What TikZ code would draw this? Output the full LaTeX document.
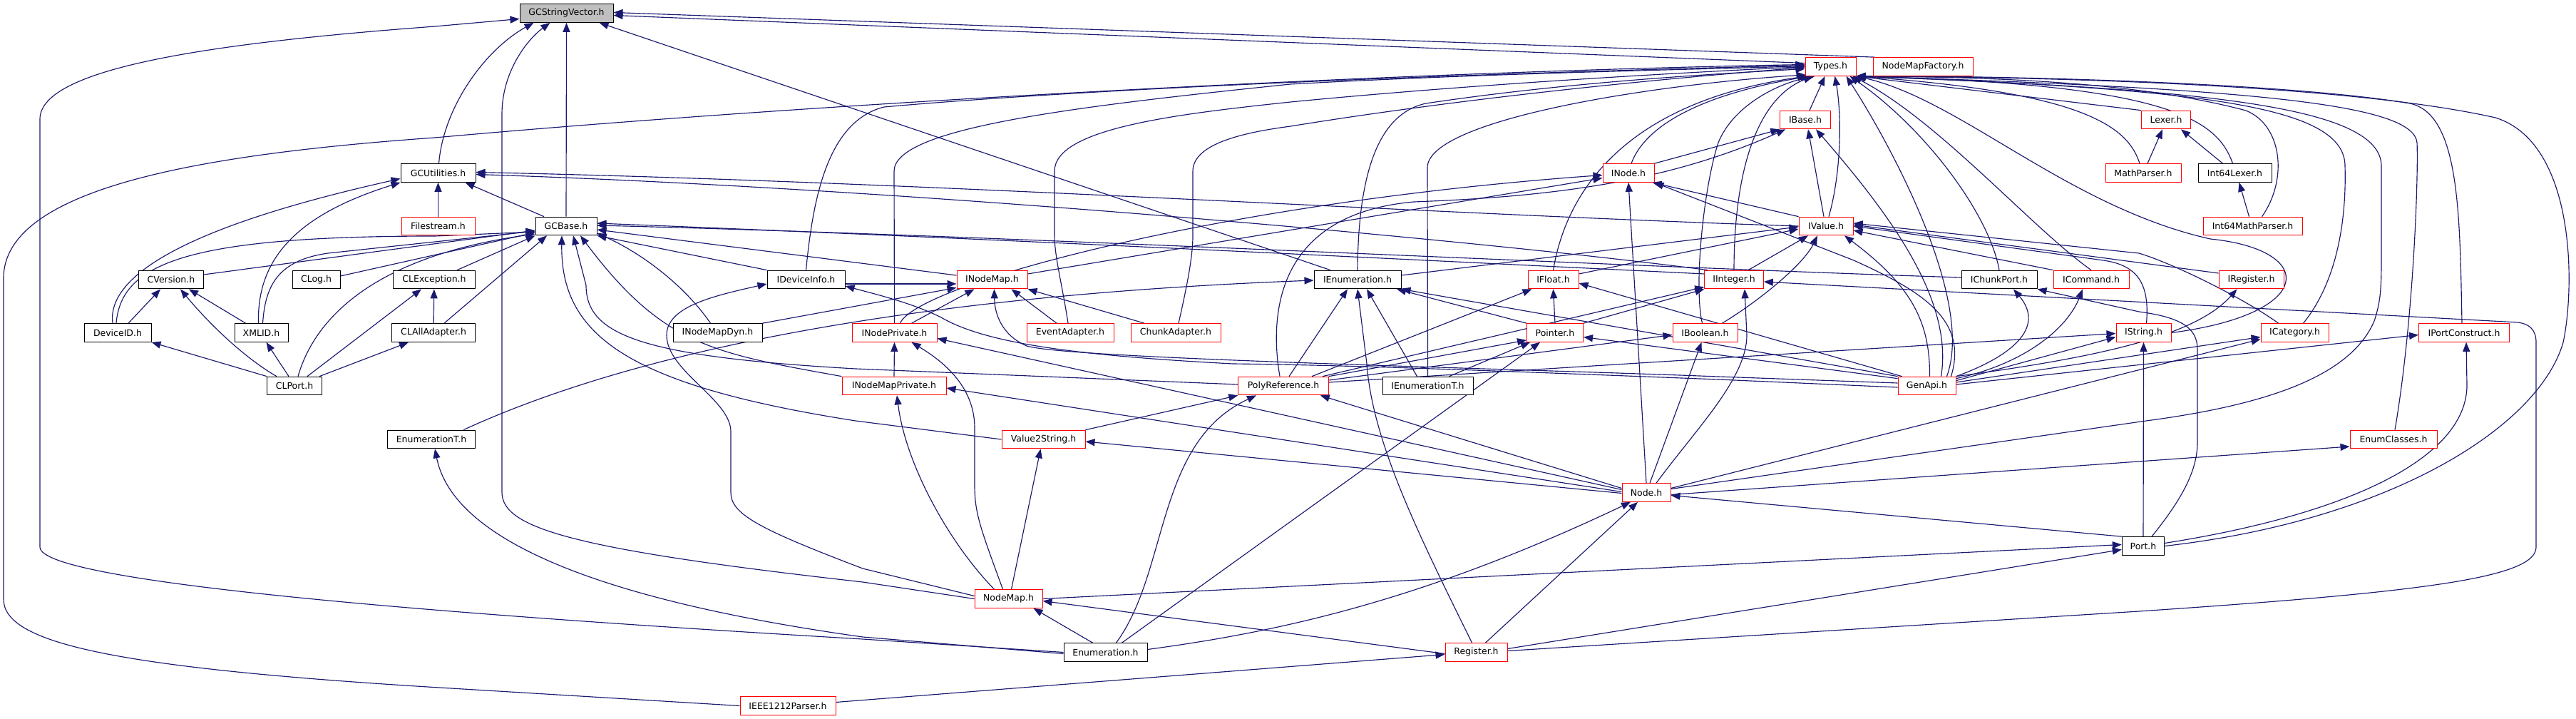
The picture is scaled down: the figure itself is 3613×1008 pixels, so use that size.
\documentclass[tikz,border=0pt]{standalone}
\usepackage{fontspec}
\setmainfont{DejaVu Sans}
\usetikzlibrary{arrows.meta,backgrounds}
\definecolor{mb}{RGB}{25,25,112}
\definecolor{rd}{RGB}{255,0,0}
\definecolor{gf}{RGB}{191,191,191}
\begin{document}
\begin{tikzpicture}[x=1pt,y=-1pt,
  nb/.style={draw=black,fill=white,line width=1pt,minimum height=25.7pt,inner sep=0pt,font=\fontsize{12.5}{14}\selectfont},
  nr/.style={nb,draw=rd},
  e/.style={draw=mb,line width=1.15pt,-{Triangle[length=13pt,width=10pt]}}]
\useasboundingbox (0,0) rectangle (3613,1008);
% nodes
\node[nb,fill=gf,minimum width=131pt] (gcsv) at (794.5,18.5) {GCStringVector.h};
\node[nr,minimum width=71pt] (types) at (2567.5,93.5) {Types.h};
\node[nr,minimum width=140pt] (nmf) at (2697,93.5) {NodeMapFactory.h};
\node[nr,minimum width=70.5pt] (ibase) at (2532,168) {IBase.h};
\node[nr,minimum width=69.5pt] (lexer) at (3038,168) {Lexer.h};
\node[nb,minimum width=105pt] (gcu) at (614.5,242.5) {GCUtilities.h};
\node[nr,minimum width=72pt] (inode) at (2284,242.5) {INode.h};
\node[nr,minimum width=106pt] (mathp) at (3006,242.5) {MathParser.h};
\node[nb,minimum width=103pt] (i64lex) at (3134.5,242.5) {Int64Lexer.h};
\node[nr,minimum width=103pt] (files) at (614.5,317) {Filestream.h};
\node[nb,minimum width=86pt] (gcbase) at (794,317) {GCBase.h};
\node[nr,minimum width=76pt] (ivalue) at (2561,317) {IValue.h};
\node[nr,minimum width=139pt] (i64mp) at (3159.5,317) {Int64MathParser.h};
\node[nb,minimum width=90.5pt] (cver) at (240,392) {CVersion.h};
\node[nb,minimum width=67pt] (clog) at (443.5,392) {CLog.h};
\node[nb,minimum width=115pt] (clexc) at (609,392) {CLException.h};
\node[nb,minimum width=109pt] (idev) at (1130.5,392) {IDeviceInfo.h};
\node[nr,minimum width=99pt] (inmap) at (1391.5,392) {INodeMap.h};
\node[nb,minimum width=122pt] (ienum) at (1904,392) {IEnumeration.h};
\node[nr,minimum width=71pt] (ifloat) at (2178.5,392) {IFloat.h};
\node[nr,minimum width=82.5pt] (iint) at (2432,392) {IInteger.h};
\node[nb,minimum width=106pt] (ichunk) at (2804,392) {IChunkPort.h};
\node[nr,minimum width=106pt] (icmd) at (2933,392) {ICommand.h};
\node[nr,minimum width=91pt] (ireg) at (3157.5,392) {IRegister.h};
\node[nb,minimum width=94pt] (devid) at (165,466.5) {DeviceID.h};
\node[nb,minimum width=75pt] (xmlid) at (366.5,466.5) {XMLID.h};
\node[nb,minimum width=117.5pt] (clall) at (608,466.5) {CLAllAdapter.h};
\node[nb,minimum width=125pt] (inmdyn) at (1006.5,466.5) {INodeMapDyn.h};
\node[nr,minimum width=119pt] (inpriv) at (1254.5,466.5) {INodePrivate.h};
\node[nr,minimum width=122pt] (evad) at (1501,466.5) {EventAdapter.h};
\node[nr,minimum width=126pt] (chad) at (1649,466.5) {ChunkAdapter.h};
\node[nr,minimum width=79pt] (pointer) at (2181,466.5) {Pointer.h};
\node[nr,minimum width=91pt] (ibool) at (2391.5,466.5) {IBoolean.h};
\node[nr,minimum width=77pt] (istr) at (3006.5,466.5) {IString.h};
\node[nr,minimum width=95pt] (icat) at (3218.5,466.5) {ICategory.h};
\node[nr,minimum width=127pt] (iportc) at (3456,466.5) {IPortConstruct.h};
\node[nb,minimum width=76.5pt] (clport) at (413,541) {CLPort.h};
\node[nr,minimum width=146pt] (inmpriv) at (1254,541) {INodeMapPrivate.h};
\node[nr,minimum width=126.5pt] (polyref) at (1800,541) {PolyReference.h};
\node[nb,minimum width=127pt] (ienumt) at (2002.5,541) {IEnumerationT.h};
\node[nr,minimum width=81pt] (genapi) at (2702.5,541) {GenApi.h};
\node[nb,minimum width=123pt] (enumt) at (605,616) {EnumerationT.h};
\node[nr,minimum width=117pt] (v2s) at (1463.5,616) {Value2String.h};
\node[nr,minimum width=122pt] (enumcl) at (3357,616) {EnumClasses.h};
\node[nr,minimum width=68pt] (node) at (2309,690.5) {Node.h};
\node[nb,minimum width=59.5pt] (port) at (3006,765.5) {Port.h};
\node[nr,minimum width=95pt] (nodemap) at (1414.5,839.5) {NodeMap.h};
\node[nb,minimum width=117pt] (enumh) at (1550.5,914.5) {Enumeration.h};
\node[nr,minimum width=87pt] (reg) at (2070.5,914.5) {Register.h};
\node[nr,minimum width=134pt] (ieee) at (1105,989.5) {IEEE1212Parser.h};
\begin{scope}[on background layer]
\fill[white] (0,0) rectangle (3613,1008);
% to GCStringVector
\draw[e] ([yshift=5pt]types.west) -- ([yshift=-3pt]gcsv.east);
\draw[e] ([xshift=3pt]nmf.north west) -- ([yshift=1pt]gcsv.east);
\draw[e] ([xshift=1pt]gcu.north) .. controls (622,150) and (680,70) .. ([xshift=-46pt]gcsv.south);
\draw[e] (gcbase.north) -- (gcsv.south);
\draw[e] (nodemap.west) -- (1210,816) .. controls (800,770) and (704,740) .. (704,690) -- (704,160) .. controls (704,100) and (740,55) .. ([xshift=-23pt]gcsv.south);
\draw[e] ([xshift=-38pt]ienum.north) -- ([xshift=46pt]gcsv.south);
\draw[e] (enumh.west) -- (1210,896) .. controls (700,866) and (56,820) .. (56,767) -- (56,167) .. controls (56,95) and (300,60) .. (610,37) -- ([yshift=-8pt]gcsv.west);
% to Types (left)
\draw[e] (ieee.west) -- (600,963) .. controls (150,935) and (5,900) .. (5,840) -- (5,390) .. controls (5,260) and (300,215) .. (610,193) .. controls (1200,140) and (2000,100) .. ([yshift=3pt]types.west);
\draw[e] (idev.north) .. controls (1140,280) and (1160,170) .. (1240,150) .. controls (1600,118) and (2200,100) .. ([yshift=2pt]types.west);
\draw[e] (inpriv.north) -- (1254,240) .. controls (1254,180) and (1500,150) .. (1810,118) .. controls (2100,102) and (2400,97) .. ([yshift=1pt]types.west);
\draw[e] ([xshift=-3pt]evad.north) .. controls (1490,400) and (1479,360) .. (1479,330) -- (1479,240) .. controls (1479,180) and (1650,160) .. (1810,143) .. controls (2100,115) and (2400,100) .. (types.west);
\draw[e] ([xshift=4pt]chad.north) .. controls (1665,400) and (1673,360) .. (1673,330) -- (1673,240) .. controls (1673,200) and (1750,185) .. (1810,177) .. controls (2100,130) and (2400,105) .. ([yshift=-1pt]types.west);
\draw[e] (ienum.north) .. controls (1905,250) and (1930,160) .. (2000,145) .. controls (2200,115) and (2400,104) .. ([yshift=-3pt]types.west);
\draw[e] (ienumt.north) -- (2002,235) .. controls (2002,170) and (2300,120) .. ([xshift=1pt,yshift=2pt]types.south west);
\draw[e] (ifloat.north) .. controls (2200,250) and (2300,140) .. ([xshift=3pt]types.south west);
\draw[e] ([xshift=4pt]inode.north) .. controls (2310,170) and (2400,130) .. ([xshift=7pt]types.south west);
\draw[e] (iint.north) .. controls (2432,250) and (2460,140) .. ([xshift=11pt]types.south west);
\draw[e] ([xshift=-4pt]ibool.north) .. controls (2375,400) and (2390,260) .. (2410,200) .. controls (2430,150) and (2490,118) .. ([xshift=14pt]types.south west);
\draw[e] ([xshift=6pt]ibase.north) -- ([xshift=-8pt]types.south);
\draw[e] ([xshift=4pt]ivalue.north) .. controls (2583,240) and (2583,160) .. ([xshift=6pt]types.south);
% to Types (right)
\draw[e] (ichunk.north) .. controls (2790,300) and (2700,180) .. ([xshift=-9pt]types.south east);
\draw[e] (icmd.north) .. controls (2850,320) and (2720,170) .. ([xshift=-5pt]types.south east);
\draw[e] ([xshift=28pt]genapi.north) .. controls (2770,420) and (2650,200) .. ([xshift=-14pt]types.south east);
\draw[e] (lexer.north west) -- (types.south east);
\draw[e] ([xshift=-5pt]mathp.north) .. controls (2985,180) and (2930,130) .. (types.south east);
\draw[e] ([xshift=-3pt]i64lex.north) .. controls (3110,170) and (3050,118) .. (types.south east);
\draw[e] ([xshift=13pt]i64mp.north) .. controls (3210,250) and (3200,175) .. (3150,155) .. controls (3000,115) and (2800,108) .. (types.south east);
\draw[e] ([xshift=12pt]icat.north) .. controls (3290,380) and (3290,270) .. (3289,233) .. controls (3289,150) and (3100,125) .. (types.south east);
\draw[e] ([xshift=-3pt]iportc.north) .. controls (3450,300) and (3450,160) .. (3380,145) .. controls (3200,115) and (2800,106) .. (types.south east);
\draw[e] (port.east) .. controls (3350,730) and (3560,600) .. (3595,480) .. controls (3612,400) and (3612,200) .. (3500,165) .. controls (3300,120) and (2900,108) .. (types.south east);
\draw[e] ([xshift=2pt]enumcl.north) .. controls (3385,450) and (3392,250) .. (3390,200) .. controls (3385,150) and (3200,125) .. (types.south east);
\draw[e] ([yshift=5pt]node.east) -- (3010,590) .. controls (3200,565) and (3300,520) .. (3330,450) .. controls (3340,420) and (3340,400) .. (3340,350) -- (3340,233) .. controls (3340,150) and (3100,125) .. (types.south east);
\draw[e] (istr.east) .. controls (3250,440) and (3250,350) .. (3100,335) .. controls (2900,290) and (2750,140) .. (types.south east);
% lexers
\draw[e] ([xshift=-5pt]i64mp.north) -- ([xshift=6pt]i64lex.south);
\draw[e] ([xshift=-17pt]i64lex.north) -- ([xshift=21pt]lexer.south);
\draw[e] ([xshift=6pt]mathp.north) -- ([xshift=-5pt]lexer.south);
% GCUtilities
\draw[e] ([xshift=-7pt]devid.north) .. controls (150,390) and (250,320) .. ([yshift=-8pt]gcu.west);
\draw[e] ([xshift=-4pt]xmlid.north) .. controls (360,360) and (420,300) .. (gcu.south west);
\draw[e] (files) -- (gcu);
\draw[e] ([xshift=-31pt]gcbase.north) -- ([xshift=38pt]gcu.south);
\draw[e] (ivalue.west) .. controls (2000,300) and (1300,255) .. ([yshift=1pt]gcu.east);
\draw[e] ([xshift=5pt]iint.north west) .. controls (2100,340) and (1300,265) .. ([yshift=-2pt]gcu.east);
% GCBase
\draw[e] ([xshift=-2pt]devid.north) .. controls (170,370) and (260,331) .. (610,331) -- ([yshift=-8pt]gcbase.west);
\draw[e] ([yshift=7pt]cver.east) -- ([yshift=-6pt]gcbase.west);
\draw[e] ([xshift=2pt]xmlid.north) .. controls (372,400) and (390,365) .. (460,355) -- ([yshift=-7pt]gcbase.west);
\draw[e] ([yshift=5pt]clog.east) -- ([yshift=-9pt]gcbase.west);
\draw[e] ([xshift=5pt]clport.north) .. controls (440,450) and (520,360) .. ([yshift=-11pt]gcbase.west);
\draw[e] ([xshift=32pt]clexc.north) -- (gcbase.south west);
\draw[e] ([xshift=15pt]clall.north) -- ([xshift=-27pt]gcbase.south);
\draw[e] (v2s.west) -- (1200,590) .. controls (880,540) and (786,470) .. ([xshift=-6pt]gcbase.south);
\draw[e] ([yshift=2pt]polyref.west) -- (1200,517) .. controls (900,500) and (822,470) .. (822,400) -- ([xshift=10pt]gcbase.south);
\draw[e] (inmpriv.north west) .. controls (1000,495) and (930,485) .. ([xshift=20pt]gcbase.south);
\draw[e] (idev.north west) -- (gcbase.south east);
\draw[e] ([xshift=-10pt]inmdyn.north) .. controls (960,400) and (900,355) .. ([yshift=-10pt]gcbase.east);
\draw[e] ([yshift=6pt]inmap.west) -- ([yshift=-5pt]gcbase.east);
\draw[e] ([yshift=3pt]ichunk.west) .. controls (2300,375) and (1400,330) .. ([yshift=1pt]gcbase.east);
\draw[e] ([yshift=8pt]iint.west) .. controls (2000,365) and (1400,335) .. ([yshift=4pt]gcbase.east);
% CL group
\draw[e] ([xshift=15pt]devid.north) -- ([xshift=-15pt]cver.south);
\draw[e] ([xshift=-22pt]xmlid.north) -- ([xshift=25pt]cver.south);
\draw[e] ([xshift=-25pt]clport.north) .. controls (340,500) and (290,450) .. ([xshift=13pt]cver.south);
\draw[e] ([xshift=18pt]clport.north) -- ([xshift=-18pt]clexc.south);
\draw[e] (clall) -- (clexc);
\draw[e] (clport.north west) -- (devid.south east);
\draw[e] ([xshift=-8pt]clport.north) -- ([xshift=7pt]xmlid.south);
\draw[e] ([xshift=35pt]clport.north) -- ([xshift=-35pt]clall.south);
% IDeviceInfo / INodeMap
\draw[e] ([yshift=4pt]nodemap.west) -- (1210,797) .. controls (1060,740) and (1025,720) .. (1025,690) -- (1025,605) .. controls (1025,560) and (935,520) .. (935,470) .. controls (935,430) and (1000,415) .. ([yshift=-6pt]idev.west);
\draw[e] ([yshift=-6pt]idev.east) -- ([yshift=-6pt]inmap.west);
\draw[e] ([yshift=-2pt]genapi.west) -- (2410,532) .. controls (2100,520) and (1900,512) .. (1729,510) .. controls (1500,498) and (1380,480) .. (1320,445) .. controls (1280,425) and (1230,413) .. ([yshift=-9pt]idev.east);
\draw[e] (inmdyn.north east) -- ([yshift=2pt]inmap.south west);
\draw[e] ([xshift=24pt]inpriv.north) -- ([xshift=-25pt]inmap.south);
\draw[e] ([xshift=-19pt]evad.north) -- ([xshift=27pt]inmap.south);
\draw[e] ([xshift=-44pt]chad.north) -- (inmap.south east);
\draw[e] ([yshift=4pt]genapi.west) -- (2410,528) .. controls (2100,516) and (1500,503) .. (1440,485) .. controls (1405,470) and (1395,440) .. ([xshift=3pt]inmap.south);
% INode
\draw[e] (node.north) -- (inode.south);
\draw[e] (ivalue.north west) -- ([xshift=-3pt]inode.south east);
\draw[e] ([yshift=8pt]inmap.east) -- ([yshift=-7pt]inode.west);
\draw[e] ([xshift=8pt]inpriv.north) .. controls (1285,400) and (1700,285) .. ([yshift=-3pt]inode.west);
\draw[e] ([xshift=34pt]genapi.north) .. controls (2760,450) and (2700,410) .. (2600,365) -- (inode.south east);
% IBase
\draw[e] (inode.north east) -- (ibase.south west);
\draw[e] ([xshift=-5pt]polyref.north) .. controls (1780,440) and (1790,300) .. (1983,283) .. controls (2200,275) and (2350,250) .. ([xshift=8pt]ibase.south west);
\draw[e] ([xshift=-3pt]ivalue.north) -- ([xshift=4pt]ibase.south);
\draw[e] ([xshift=20pt]genapi.north) .. controls (2740,420) and (2650,300) .. ([xshift=15pt]ibase.south);
% IValue
\draw[e] ([xshift=20pt]iint.north) -- ([xshift=-25pt]ivalue.south);
\draw[e] ([xshift=24pt]ibool.north) .. controls (2470,420) and (2530,370) .. ([xshift=-12pt]ivalue.south);
\draw[e] ([xshift=4pt]genapi.north) .. controls (2707,450) and (2680,400) .. ([xshift=26pt]ivalue.south);
\draw[e] ([yshift=8pt]ifloat.east) -- ([yshift=-4pt]ivalue.west);
\draw[e] ([yshift=6pt]ienum.east) -- ([yshift=-1pt]ivalue.west);
\draw[e] ([yshift=9pt]ireg.west) -- ([yshift=2pt]ivalue.east);
\draw[e] (icmd.north west) -- ([yshift=-6pt]ivalue.east);
\draw[e] ([xshift=4pt]istr.north) .. controls (3015,400) and (3000,372) .. (2950,365) -- (ivalue.east);
\draw[e] ([xshift=-23pt]icat.north) .. controls (3150,420) and (3050,370) .. (3000,355) -- ([yshift=4pt]ivalue.east);
% IEnumeration
\draw[e] ([xshift=45pt]enumt.north) .. controls (950,465) and (1400,410) .. ([yshift=-1pt]ienum.west);
\draw[e] ([xshift=-15pt]ienumt.north) -- ([xshift=13pt]ienum.south);
\draw[e] ([xshift=-6pt]reg.north) .. controls (1990,750) and (1925,620) .. (1917,510) -- (ienum.south);
\draw[e] ([xshift=8pt]polyref.north) -- ([xshift=-14pt]ienum.south);
\draw[e] ([xshift=-40pt]pointer.north) -- ([xshift=55pt]ienum.south);
\draw[e] (genapi.north west) -- (ienum.south east);
% IFloat / IInteger / Pointer / IBoolean
\draw[e] (pointer.north) -- (ifloat.south);
\draw[e] ([xshift=40pt]polyref.north) -- ([xshift=-30pt]ifloat.south);
\draw[e] ([xshift=6pt]genapi.north west) -- ([yshift=-5pt]ifloat.east);
\draw[e] (pointer.north east) -- (iint.south west);
\draw[e] ([xshift=55pt]polyref.north) -- ([yshift=3pt]iint.south west);
\draw[e] ([xshift=14pt]node.north) .. controls (2380,600) and (2450,530) .. (2450,470) -- ([xshift=15pt]iint.south);
\draw[e] ([yshift=2pt]reg.east) -- (3000,857) .. controls (3400,830) and (3557,810) .. (3557,767) -- (3557,480) .. controls (3557,460) and (3545,454) .. (3532,452) -- ([yshift=-3pt]iint.east);
\draw[e] (polyref.north east) -- ([yshift=3pt]pointer.south west);
\draw[e] ([xshift=30pt]ienumt.north) -- ([xshift=-35pt]pointer.south);
\draw[e] ([xshift=23pt]enumh.north) -- ([xshift=-21pt]pointer.south);
\draw[e] ([yshift=-3pt]genapi.north west) -- ([yshift=-6pt]pointer.east);
\draw[e] ([yshift=8pt]polyref.east) -- ([yshift=-3pt]ibool.west);
\draw[e] ([xshift=5pt]node.north) -- ([xshift=-5pt]ibool.south);
% right-hand interfaces
\draw[e] ([xshift=12pt]port.north) .. controls (3060,700) and (3082,660) .. (3082,620) -- (3082,490) .. controls (3082,460) and (3060,445) .. (3000,437) -- (ichunk.south east);
\draw[e] (genapi.north east) .. controls (2820,500) and (2870,460) .. ([xshift=20pt]ichunk.south);
\draw[e] ([yshift=-3pt]genapi.north east) .. controls (2840,510) and (2900,460) .. ([xshift=-12pt]icmd.south);
\draw[e] ([yshift=-6pt]genapi.north east) -- ([yshift=-6pt]istr.west);
\draw[e] ([yshift=5pt]polyref.east) -- ([yshift=-1pt]istr.west);
\draw[e] (port.north) -- (istr.south);
\draw[e] ([yshift=5pt]genapi.east) -- ([yshift=-6pt]icat.west);
\draw[e] ([yshift=6pt]node.east) -- ([yshift=-9pt]icat.west);
\draw[e] (genapi.north east) .. controls (2950,500) and (3080,470) .. ([xshift=-20pt]ireg.south);
\draw[e] ([yshift=2pt]genapi.east) -- ([yshift=-3pt]iportc.west);
\draw[e] ([yshift=4pt]port.east) .. controls (3300,720) and (3460,640) .. (3460,540) -- ([xshift=3pt]iportc.south);
\draw[e] ([yshift=-3pt]node.east) -- ([yshift=-10pt]enumcl.west);
% Node
\draw[e] ([yshift=4pt]node.west) -- ([yshift=-8pt]inpriv.east);
\draw[e] ([yshift=1pt]node.west) -- ([yshift=-3pt]inmpriv.east);
\draw[e] ([yshift=-1pt]node.west) -- ([yshift=-3pt]v2s.east);
\draw[e] ([yshift=6pt]node.west) -- ([xshift=-12pt]polyref.south east);
\draw[e] ([yshift=4pt]enumh.east) .. controls (1800,885) and (2000,840) .. ([xshift=-22pt]node.south);
\draw[e] ([xshift=13pt]reg.north) -- ([xshift=-12pt]node.south);
\draw[e] (port.north west) -- ([yshift=-4pt]node.east);
% NodeMap and bottom
\draw[e] ([xshift=-18pt]enumh.north) -- ([xshift=35pt]nodemap.south);
\draw[e] ([yshift=-2pt]reg.west) -- ([yshift=-3pt]nodemap.east);
\draw[e] ([xshift=4pt]nodemap.north) -- ([xshift=-4pt]v2s.south);
\draw[e] ([xshift=-20pt]nodemap.north) .. controls (1330,760) and (1270,650) .. ([xshift=4pt]inmpriv.south);
\draw[e] ([xshift=-8pt]nodemap.north) .. controls (1375,740) and (1367,720) .. (1367,680) -- (1367,600) .. controls (1367,540) and (1320,505) .. ([xshift=24pt]inpriv.south);
\draw[e] (nodemap.east) -- ([yshift=2pt]port.west);
\draw[e] ([yshift=5pt]reg.east) -- ([yshift=-5pt]port.west);
\draw[e] ([yshift=5pt]ieee.east) -- ([yshift=-3pt]reg.west);
\draw[e] ([yshift=-2pt]enumh.west) -- (1210,893) .. controls (760,830) and (630,730) .. ([xshift=5pt]enumt.south);
\draw[e] ([xshift=15pt]enumh.north) .. controls (1640,800) and (1620,620) .. ([xshift=-38pt]polyref.south);
\draw[e] (v2s.north east) -- (polyref.south west);
\draw[e] (inmpriv.north) -- (inpriv.south);
\end{scope}
\end{tikzpicture}
\end{document}
